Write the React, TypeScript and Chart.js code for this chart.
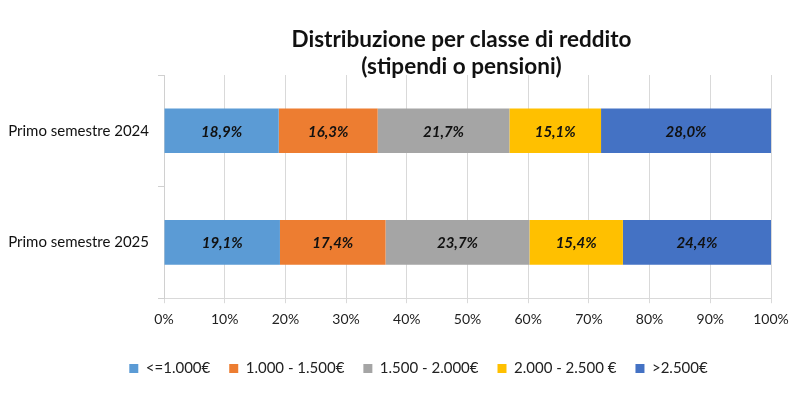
import React, { useEffect, useRef } from "react";
import { Chart, registerables } from "chart.js";

Chart.register(...registerables);

const categories = ["Primo semestre 2024", "Primo semestre 2025"];
const seriesNames = ["<=1.000€", "1.000 - 1.500€", "1.500 - 2.000€", "2.000 - 2.500 €", ">2.500€"];
const s1 = [18.9, 19.1];
const s2 = [16.3, 17.4];
const s3 = [21.7, 23.7];
const s4 = [15.1, 15.4];
const s5 = [28.0, 24.4];
const seriesValues = [s1, s2, s3, s4, s5];
const colors = ["#5B9BD5", "#ED7D31", "#A5A5A5", "#FFC000", "#4472C4"];
const xTicks = [0, 10, 20, 30, 40, 50, 60, 70, 80, 90, 100];

const FONT = "Lato, 'Open Sans', sans-serif";

const labelPlugin = {
  id: "barLabels",
  afterDatasetsDraw(chart: any) {
    const ctx = chart.ctx;
    ctx.save();
    ctx.font = `italic bold 15px ${FONT}`;
    ctx.fillStyle = "#111";
    ctx.textAlign = "center";
    ctx.textBaseline = "middle";
    chart.data.datasets.forEach((ds: any, di: number) => {
      const meta = chart.getDatasetMeta(di);
      meta.data.forEach((el: any, i: number) => {
        const v = ds.data[i];
        const cx = (el.x + el.base) / 2;
        ctx.fillText(v.toFixed(1).replace(".", ",") + "%", cx, el.y + 1);
      });
    });
    ctx.restore();
  },
};

const boxShift = {
  id: "boxShift",
  afterUpdate(chart: any) {
    if (chart.legend) chart.legend.left += 66;
    if (chart.titleBlock) chart.titleBlock.left -= 12;
  },
};

export default function App() {
  const ref = useRef<HTMLCanvasElement>(null);
  useEffect(() => {
    if (!ref.current) return;
    const chart = new Chart(ref.current, {
      type: "bar",
      data: {
        labels: categories,
        datasets: seriesValues.map((vals, i) => ({
          label: seriesNames[i],
          data: vals,
          backgroundColor: colors[i],
          borderWidth: 0,
          categoryPercentage: 0.4,
          barPercentage: 1.0,
        })),
      },
      options: {
        indexAxis: "y",
        animation: false,
        responsive: false,
        maintainAspectRatio: false,
        layout: { padding: { left: 0, right: 28, top: 0, bottom: 17 } },
        scales: {
          x: {
            stacked: true,
            min: 0,
            max: 100,
            afterBuildTicks: (axis: any) => {
              axis.ticks = xTicks.map((v) => ({ value: v }));
            },
            afterFit: (axis: any) => {
              axis.height += 6;
            },
            ticks: {
              callback: (v: any) => v + "%",
              color: "#222",
              font: { family: FONT, size: 14 },
              padding: 8,
            },
            grid: { color: "#d9d9d9", tickLength: 5, lineWidth: 1 },
            border: { display: true, color: "#d9d9d9", width: 1 },
          },
          y: {
            stacked: true,
            afterFit: (axis: any) => {
              axis.width = 164;
            },
            ticks: {
              color: "#111",
              font: { family: FONT, size: 15 },
              padding: 9,
            },
            grid: { offset: true, drawOnChartArea: false, tickLength: 6, color: "#d0d0d0" },
            border: { display: true, color: "#d0d0d0", width: 1 },
          },
        },
        plugins: {
          title: {
            display: true,
            text: ["Distribuzione per classe di reddito", "(stipendi o pensioni)"],
            color: "#111",
            font: { family: FONT, size: 22.5, weight: "bold" },
            fullSize: false,
            padding: { top: 26, bottom: -5 },
            lineHeight: 1.27,
          },
          legend: {
            position: "bottom",
            labels: {
              boxWidth: 9,
              boxHeight: 9,
              color: "#222",
              font: { family: FONT, size: 15 },
              padding: 19,
            },
          },
          tooltip: { enabled: false },
        },
      },
      plugins: [labelPlugin, boxShift],
    } as any);
    return () => chart.destroy();
  }, []);
  return (
    <div style={{ position: "absolute", left: 0, top: 0, width: 799, height: 403, background: "#fff" }}>
      <canvas ref={ref} width={799} height={403} style={{ width: 799, height: 403 }} />
    </div>
  );
}
